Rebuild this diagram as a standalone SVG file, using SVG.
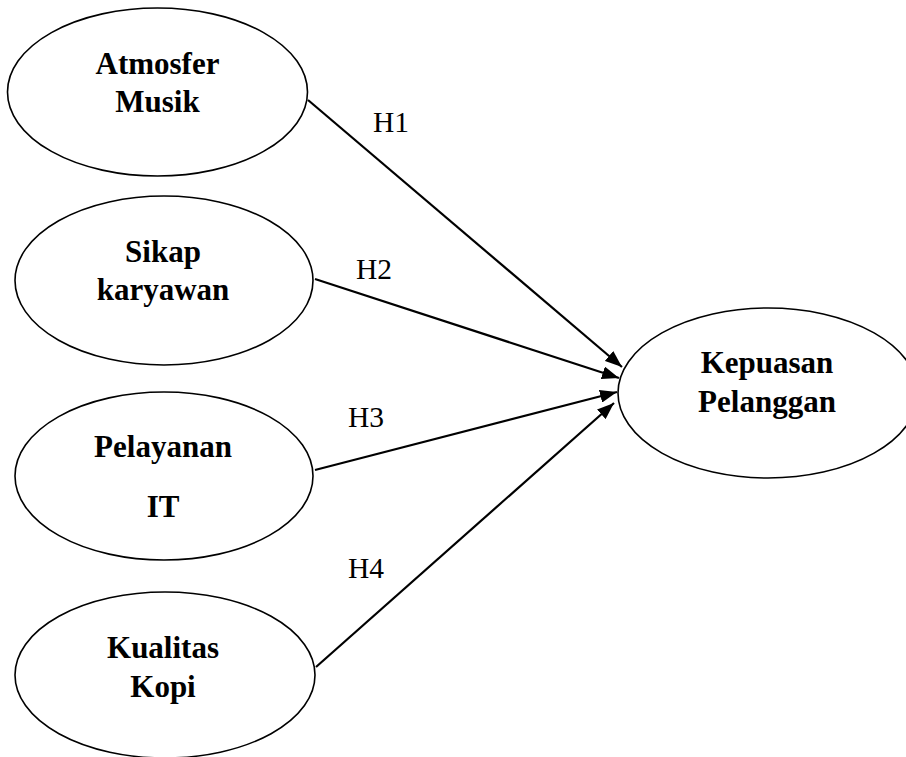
<svg xmlns="http://www.w3.org/2000/svg" width="906" height="757" viewBox="0 0 906 757">
<style>
.node ellipse{fill:#fff;stroke:#000;stroke-width:1.6}
.node text{font-family:"Liberation Serif","Times New Roman",serif;font-weight:bold;font-size:31px;text-anchor:middle;fill:#000}
.lbl{font-family:"Liberation Serif","Times New Roman",serif;font-size:29.5px;fill:#000}
.conn line{stroke:#000;stroke-width:2.2;marker-end:url(#ah)}
</style>
<defs>
<marker id="ah" markerUnits="userSpaceOnUse" markerWidth="17" markerHeight="13" refX="17" refY="6.5" orient="auto">
<path d="M0,0 L17,6.5 L0,13 z" fill="#000"/>
</marker>
</defs>
<rect width="906" height="757" fill="#fff"/>
<g id="n1" class="node"><ellipse cx="157.5" cy="92" rx="150" ry="84"/><text x="157.5" y="74">Atmosfer</text><text x="157.5" y="112">Musik</text></g>
<g id="n2" class="node"><ellipse cx="164" cy="280.5" rx="149" ry="84.5"/><text x="163" y="262">Sikap</text><text x="163" y="300">karyawan</text></g>
<g id="n3" class="node"><ellipse cx="164" cy="476" rx="149" ry="84"/><text x="163" y="457">Pelayanan</text><text x="163" y="517">IT</text></g>
<g id="n4" class="node"><ellipse cx="165" cy="675" rx="150" ry="83"/><text x="163" y="658">Kualitas</text><text x="163" y="697">Kopi</text></g>
<g id="n5" class="node"><ellipse cx="768" cy="393" rx="150" ry="85"/><text x="767" y="373">Kepuasan</text><text x="767" y="412">Pelanggan</text></g>
<g id="connectors" class="conn">
<line x1="308" y1="100" x2="622" y2="367"/>
<line x1="315" y1="279" x2="619" y2="378"/>
<line x1="315" y1="470" x2="617" y2="392"/>
<line x1="316" y1="667" x2="614" y2="403"/>
</g>
<g id="labels">
<text class="lbl" x="373" y="132">H1</text>
<text class="lbl" x="356" y="279">H2</text>
<text class="lbl" x="348" y="427">H3</text>
<text class="lbl" x="348" y="578">H4</text>
</g>
</svg>
